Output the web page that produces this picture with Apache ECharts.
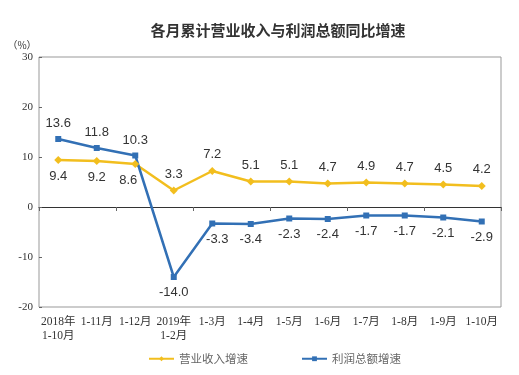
<!DOCTYPE html>
<html><head><meta charset="utf-8">
<script src="https://cdn.jsdelivr.net/npm/echarts@6/dist/echarts.min.js"></script>
<style>html,body{margin:0;padding:0;background:#fff;}#c{width:519px;height:375px;}</style>
</head><body><div id="c"></div>
<script>
const categories = ['2018年\n1-10月','1-11月','1-12月','2019年\n1-2月','1-3月','1-4月','1-5月','1-6月','1-7月','1-8月','1-9月','1-10月'];
const revenueGrowth = [9.4, 9.2, 8.6, 3.3, 7.2, 5.1, 5.1, 4.7, 4.9, 4.7, 4.5, 4.2];
const profitGrowth = [13.6, 11.8, 10.3, -14.0, -3.3, -3.4, -2.3, -2.4, -1.7, -1.7, -2.1, -2.9];
const seriesNames = ['营业收入增速', '利润总额增速'];
const titleText = '各月累计营业收入与利润总额同比增速';

const chart = echarts.init(document.getElementById('c'), null, {renderer:'canvas'});
const serif = '"Liberation Serif","DejaVu Serif","Noto Sans CJK SC",serif';
const sans = '"Liberation Sans",Arial,"Noto Sans CJK SC",sans-serif';
const yellow = '#F2BE1E', blue = '#3270B5';

function withPos(arr, fn, offFn){ return arr.map((v,i)=>({value:v, label:{position: fn(i), offset: offFn(i)}})); }

chart.setOption({
  animation:false,
  backgroundColor:'#fff',
  graphic:[
    {type:'text', x:278, y:30, style:{text:titleText, textAlign:'center', textVerticalAlign:'middle', font:'bold 15px "Noto Sans CJK SC",sans-serif', fill:'#333'}},
    {type:'text', x:22, y:45, style:{text:'（%）', textAlign:'center', textVerticalAlign:'middle', font:'10px "Noto Sans CJK SC",serif', fill:'#333'}}
  ],
  legend:{
    top:348, left:143, itemWidth:25, itemHeight:6, itemGap:53,
    textStyle:{fontFamily:'"Noto Sans CJK SC",sans-serif', fontSize:11.5, color:'#666'},
    data:seriesNames
  },
  grid:{left:39, top:57, width:462, height:250, show:true, borderColor:'#999', borderWidth:1, containLabel:false},
  xAxis:[
    {type:'category', data:categories, position:'bottom', axisLine:{show:false, onZero:false}, axisTick:{show:false},
     axisLabel:{interval:0, margin:8, fontFamily:serif, fontSize:11.5, color:'#333', lineHeight:14}},
    {type:'category', data:categories, position:'bottom', axisLine:{show:true, onZero:true, lineStyle:{color:'#333', width:1}},
     axisTick:{show:true, length:4, lineStyle:{color:'#666'}}, axisLabel:{show:false}}
  ],
  yAxis:{type:'value', min:-20, max:30, interval:10, splitLine:{show:false},
    axisLine:{show:false}, axisTick:{show:true, inside:true, length:3, lineStyle:{color:'#666'}},
    axisLabel:{margin:6, fontFamily:serif, fontSize:11, color:'#333'}},
  series:[
    {name:seriesNames[0], type:'line', xAxisIndex:0,
     data:withPos(revenueGrowth, i=> i<3?'bottom':'top', i=> i===2?[-7,0]:[0,0]),
     symbol:'diamond', symbolSize:8, color:yellow, lineStyle:{width:2.5, color:yellow}, itemStyle:{color:yellow},
     label:{show:true, distance:6, formatter:p=>p.value.toFixed(1), fontFamily:sans, fontSize:13, color:'#333'}},
    {name:seriesNames[1], type:'line', xAxisIndex:0,
     data:withPos(profitGrowth, i=> i<3?'top':'bottom', i=> i===4?[5,0]:[0,0]),
     symbol:'rect', symbolSize:6, color:blue, lineStyle:{width:2.5, color:blue}, itemStyle:{color:blue},
     label:{show:true, distance:6, formatter:p=>p.value.toFixed(1), fontFamily:sans, fontSize:13, color:'#333'}}
  ]
});
</script></body></html>
